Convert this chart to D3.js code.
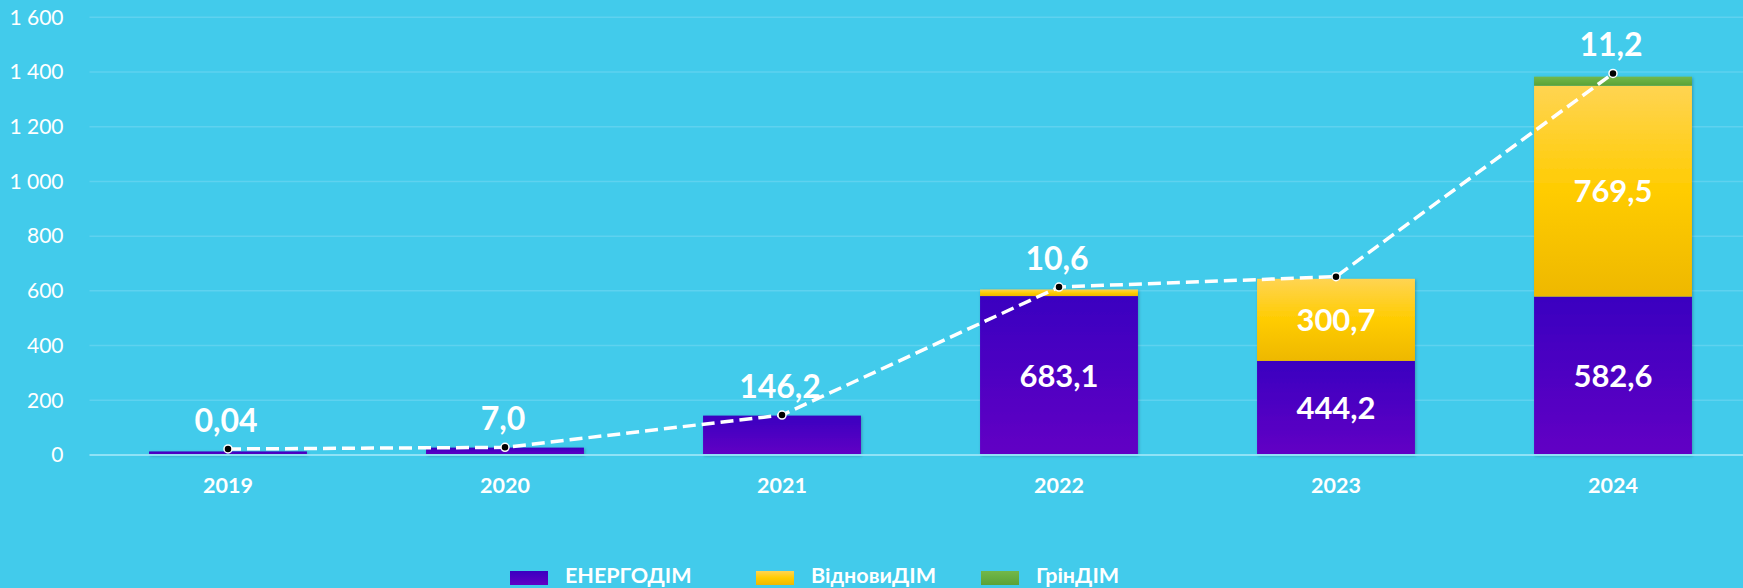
<!DOCTYPE html>
<html><head><meta charset="utf-8">
<script src="https://cdn.jsdelivr.net/npm/d3@7"></script>
<style>
html,body{margin:0;padding:0;background:#42cbeb;}
svg{display:block;}
</style></head>
<body>
<svg id="chart" width="1743" height="588"></svg>
<script>
const categories = ["2019","2020","2021","2022","2023","2024"];
const seriesNames = ["ЕНЕРГОДІМ","ВідновиДІМ","ГрінДІМ"];
const energoDim = [13, 27, 144, 581, 344, 579];
const vidnovyDim = [0, 0, 0, 24, 300, 771];
const grinDim = [0, 0, 0, 0, 0, 33];
const lineValues = [22, 28, 146, 614, 652, 1395];
const lineLabels = ["0,04","7,0","146,2","10,6","","11,2"];
const energoLabels = ["","","","683,1","444,2","582,6"];
const vidnovyLabels = ["","","","","300,7","769,5"];
const yTicks = [0,200,400,600,800,1000,1200,1400,1600];
const yTickLabels = ["0","200","400","600","800","1 000","1 200","1 400","1 600"];

const svg = d3.select("#chart");
const W = 1743;
const x = d3.scaleBand().domain(categories).range([89.5, 89.5 + 6*277]).paddingInner(0.43).paddingOuter(0.215);
const y = d3.scaleLinear().domain([0,1600]).range([455, 17.3]);
const font = "Lato, 'Open Sans', sans-serif";

const defs = svg.append("defs");
function grad(id, stops){
  const g = defs.append("linearGradient").attr("id",id).attr("x1",0).attr("y1",0).attr("x2",0).attr("y2",1);
  stops.forEach(s=>g.append("stop").attr("offset",s[0]).attr("stop-color",s[1]));
}
grad("gPurple", [[0,"#3a00c0"],[1,"#6200c4"]]);
grad("gYellow", [[0,"#ffd452"],[0.5,"#ffcc00"],[1,"#eeb800"]]);
grad("gGreen", [[0,"#72b84a"],[1,"#5aa236"]]);
const flt = defs.append("filter").attr("id","shadow").attr("x","-10%").attr("y","-10%").attr("width","130%").attr("height","130%");
flt.append("feDropShadow").attr("dx",1).attr("dy",1).attr("stdDeviation",1.5).attr("flood-color","#000").attr("flood-opacity",0.25);

// gridlines
const yAxis = d3.axisLeft(y).tickValues(yTicks).tickFormat((d,i)=>yTickLabels[i]).tickSize(0);
svg.append("g").selectAll("line").data(yTicks.filter(d=>d>0)).join("line")
  .attr("x1",89.5).attr("x2",W).attr("y1",d=>y(d)).attr("y2",d=>y(d))
  .attr("stroke","#5ed2ef").attr("stroke-width",1.5);
const ya = svg.append("g").attr("transform","translate(66.5,0)").call(yAxis);
ya.select(".domain").remove();
ya.selectAll("text").attr("fill","#ffffff").attr("font-family",font).attr("font-size",21).attr("dx",0);

// stacked bars
const table = categories.map((c,i)=>({cat:c, e:energoDim[i], v:vidnovyDim[i], g:grinDim[i]}));
const stack = d3.stack().keys(["e","v","g"])(table);
const fills = ["url(#gPurple)","url(#gYellow)","url(#gGreen)"];
const barG = svg.append("g").attr("filter","url(#shadow)");
stack.forEach((layer,k)=>{
  barG.append("g").selectAll("rect").data(layer.filter(d=>d[1]-d[0]>0)).join("rect")
    .attr("x",d=>x(d.data.cat)).attr("width",x.bandwidth())
    .attr("y",d=>y(d[1])).attr("height",d=>y(d[0])-y(d[1]))
    .attr("fill",fills[k]);
});

// x axis line
svg.append("line").attr("x1",89.5).attr("x2",W).attr("y1",y(0)).attr("y2",y(0)).attr("stroke","#8fe2f6").attr("stroke-width",2);
const xa = svg.append("g").attr("transform",`translate(0,${y(0)})`).call(d3.axisBottom(x).tickSize(0));
xa.select(".domain").remove();
xa.selectAll("text").attr("fill","#ffffff").attr("font-family",font).attr("font-weight","bold").attr("font-size",21.5).attr("dy","1.15em").attr("y",13);

// inner labels
function innerLabels(labels, layer){
  svg.append("g").selectAll("text").data(layer).join("text")
    .attr("x",d=>x(d.data.cat)+x.bandwidth()/2)
    .attr("y",d=>(y(d[0])+y(d[1]))/2)
    .attr("dy","0.36em").attr("text-anchor","middle")
    .attr("fill","#ffffff").attr("font-family",font).attr("font-weight","bold").attr("font-size",31)
    .text((d,i)=>labels[i]);
}
innerLabels(energoLabels, stack[0]);
innerLabels(vidnovyLabels, stack[1]);

// line
const cx = c=>x(c)+x.bandwidth()/2;
const line = d3.line().x((d,i)=>cx(categories[i])).y(d=>y(d));
svg.append("path").datum(lineValues).attr("d",line).attr("fill","none")
  .attr("stroke","#ffffff").attr("stroke-width",3.5).attr("stroke-dasharray","13,6");
svg.append("g").selectAll("circle").data(lineValues).join("circle")
  .attr("cx",(d,i)=>cx(categories[i])).attr("cy",d=>y(d)).attr("r",4)
  .attr("fill","#000").attr("stroke","#fff").attr("stroke-width",1.5);
svg.append("g").selectAll("text").data(lineValues).join("text")
  .attr("x",(d,i)=>cx(categories[i])-2).attr("y",d=>y(d)-17)
  .attr("text-anchor","middle").attr("fill","#ffffff").attr("font-family",font)
  .attr("font-weight","bold").attr("font-size",32)
  .text((d,i)=>lineLabels[i]);

// legend
const legendX = [510, 756, 981];
const lg = svg.append("g");
seriesNames.forEach((n,i)=>{
  lg.append("rect").attr("x",legendX[i]).attr("y",571).attr("width",38).attr("height",14).attr("fill",fills[i]);
  lg.append("text").attr("x",legendX[i]+55).attr("y",583)
    .attr("fill","#ffffff").attr("font-family",font).attr("font-weight","bold").attr("font-size",21.5).text(n);
});
</script>
</body></html>
